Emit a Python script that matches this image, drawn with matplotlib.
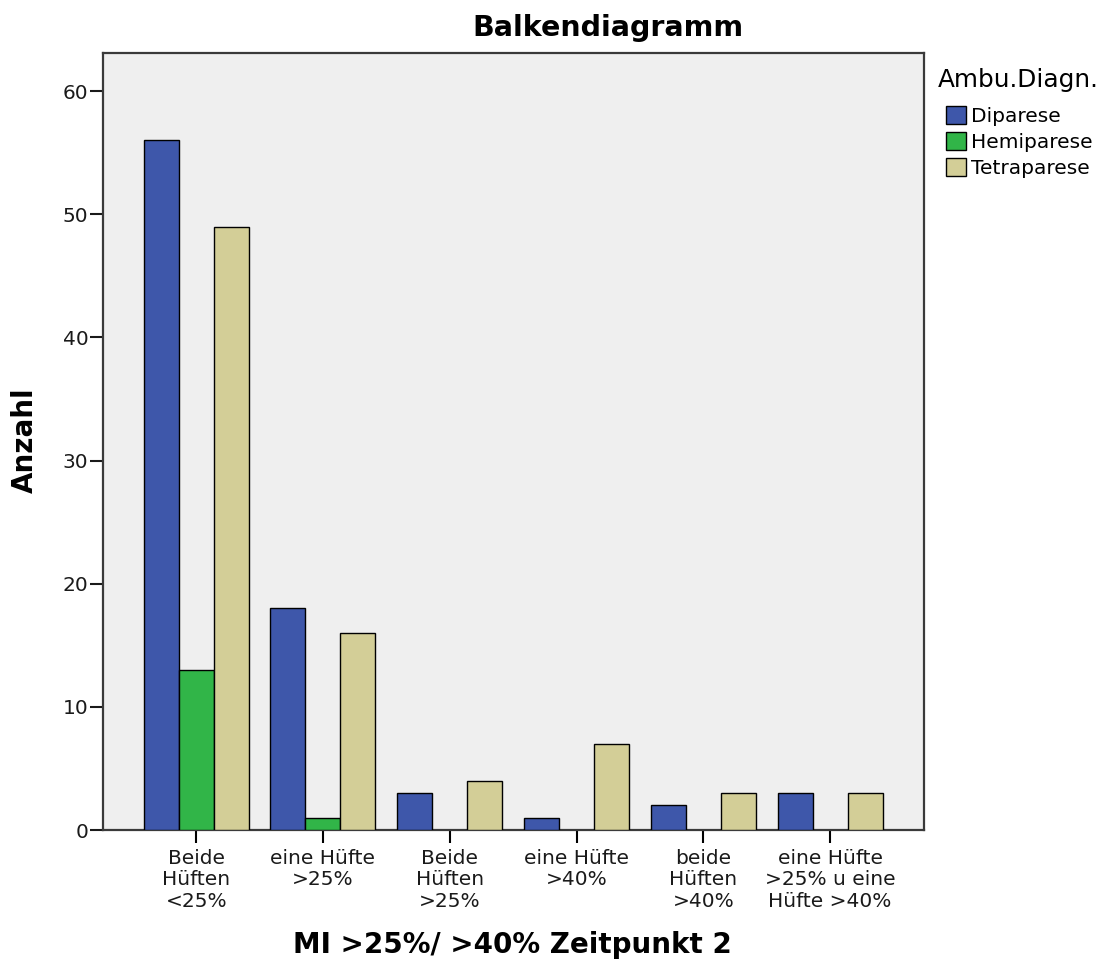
import matplotlib
matplotlib.use("Agg")
import matplotlib.pyplot as plt
from matplotlib.patches import Patch
import numpy as np

categories = ["Beide\nHüften\n<25%", "eine Hüfte\n>25%", "Beide\nHüften\n>25%",
              "eine Hüfte\n>40%", "beide\nHüften\n>40%", "eine Hüfte\n>25% u eine\nHüfte >40%"]
series_names = ["Diparese", "Hemiparese", "Tetraparese"]
diparese = [56, 18, 3, 1, 2, 3]
hemiparese = [13, 1, 0, 0, 0, 0]
tetraparese = [49, 16, 4, 7, 3, 3]
yticks = [0, 10, 20, 30, 40, 50, 60]

colors = ["#3E57AA", "#31B548", "#D3CE97"]
plt.rcParams['font.family'] = ['DejaVu Sans']

W, H = 1105, 960
fig = plt.figure(figsize=(W / 100, H / 100), dpi=100)
ax = fig.add_axes([103 / W, 1 - 830 / H, (924 - 103) / W, (830 - 53) / H])
ax.set_facecolor("#EFEFEF")

x = np.arange(len(categories))
bw = 0.276
for i, (vals, c) in enumerate(zip([diparese, hemiparese, tetraparese], colors)):
    vals = np.asarray(vals)
    m = vals > 0
    ax.bar(x[m] + (i - 1) * bw, vals[m], width=bw, color=c, edgecolor="black",
           linewidth=1.0, zorder=3)

ax.set_xlim(-0.735, 5.74)
ax.set_ylim(0, 63.1)
ax.set_yticks(yticks)
ax.set_xticks(x)
ax.set_xticklabels(categories, fontsize=14.5, linespacing=1.17, color="#1a1a1a")
ax.tick_params(axis="y", labelsize=14.5, length=9.5, width=1.5, direction="out",
               pad=1, colors="#1a1a1a")
ax.tick_params(axis="x", length=9.5, width=1.5, direction="out", pad=4)
for s in ax.spines.values():
    s.set_linewidth(1.6)
    s.set_color("#3a3a3a")

fig.text(608 / W, 1 - 36 / H, "Balkendiagramm", fontsize=20.5, fontweight="bold",
         ha="center", va="baseline")
fig.text(512 / W, 1 - 953 / H, "MI >25%/ >40% Zeitpunkt 2", fontsize=20,
         fontweight="bold", ha="center", va="baseline")
fig.text(25 / W, 1 - 440 / H, "Anzahl", fontsize=20, fontweight="bold",
         rotation=90, ha="center", va="center")

fig.text(938 / W, 1 - 87 / H, "Ambu.Diagn.", fontsize=17.8, ha="left", va="baseline")
handles = [Patch(facecolor=c, edgecolor="black", linewidth=1.0) for c in colors]
leg = fig.legend(handles, series_names, loc="upper left",
                 bbox_to_anchor=(946 / W, 1 - 106 / H), frameon=False,
                 fontsize=14.5, handlelength=1.0, handleheight=1.0,
                 handletextpad=0.25, labelspacing=0.3, borderpad=0,
                 borderaxespad=0)

fig.savefig("out.png", dpi=100)
